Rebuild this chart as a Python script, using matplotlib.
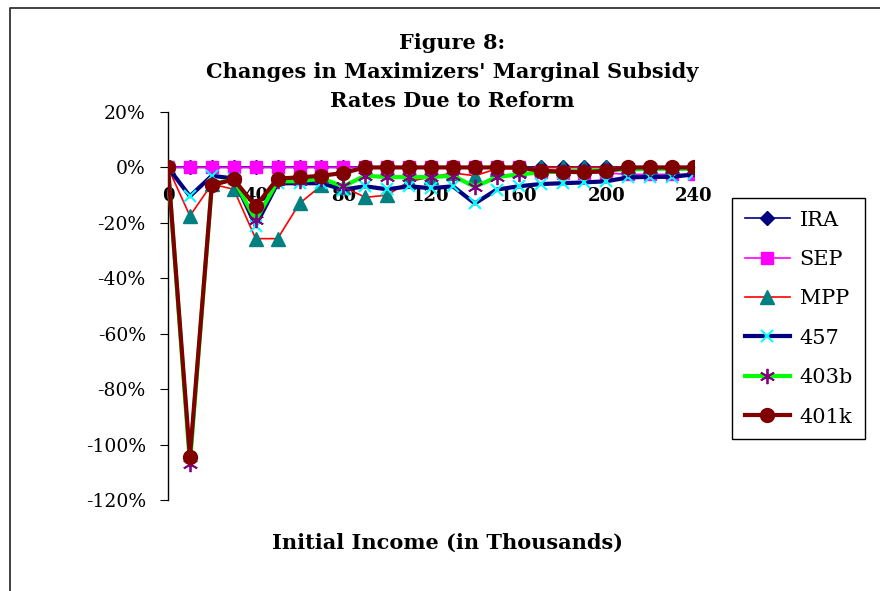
import matplotlib
matplotlib.use("Agg")
import matplotlib.pyplot as plt
from matplotlib.lines import Line2D
import numpy as np

income = list(range(0, 250, 10))

ira = [0, 0, 0, 0, 0, 0, 0, 0, 0, 0, 0, 0, 0, 0, 0, 0, 0, 0, 0, 0, 0, 0, 0, 0, 0]
sep = [0, 0, 0, 0, 0, 0, 0, 0, 0, 0, 0, 0, 0, 0, 0, 0, 0, -1.5, -2, -2, -2, -2.5, -2.5, -2.5, -2.5]
mpp = [0, -17.5, -6, -7.9, -25.7, -25.7, -13, -6.5, -7, -10.8, -10, -5, -3.5, -2, -3, -0.5, -0.5, 0, 0, 0, 0, 0, 0, 0, 0]
f457 = [0, -10.4, -3, -4, -21, -5.7, -5.7, -5.7, -8, -6.8, -7.9, -6.8, -7.5, -6.8, -13, -8, -6.8, -6, -5.7, -5.4, -5, -3.6, -3.4, -3.4, -2.5]
f403b = [0, -107, -6, -4.3, -19, -5, -5, -4, -6.8, -3, -3.5, -3.5, -3.5, -3, -7, -3.5, -2.5, -1.8, -1.5, -1.2, -1, -0.7, -0.5, -0.5, -0.5]
f401k = [0, -104.5, -6.4, -4.3, -14, -4, -3.6, -3, -2, 0, 0, 0, 0, 0, 0, 0, 0, -1.2, -1.5, -1.8, -1.2, 0, 0, 0, 0]

ytick_vals = [20, 0, -20, -40, -60, -80, -100, -120]
ytick_labels = ["20%", "0%", "-20%", "-40%", "-60%", "-80%", "-100%", "-120%"]
xtick_vals = [0, 40, 80, 120, 160, 200, 240]
xtick_labels = ["0", "40", "80", "120", "160", "200", "240"]

serif = ["DejaVu Serif"]
plt.rcParams["font.family"] = serif

fig = plt.figure(figsize=(8.8, 5.91), dpi=100)
ax = fig.add_axes([168/880, 1-500/591, (694-168)/880, (500-112)/591])

ax.plot(income, ira, color="#000080", lw=1.2, marker="D", ms=7, mfc="#000080", mec="#000080", label="IRA", zorder=3)
ax.plot(income, sep, color="#FF00FF", lw=1.2, marker="s", ms=9, mfc="#FF00FF", mec="#FF00FF", label="SEP", zorder=4)
ax.plot(income, mpp, color="#FF0000", lw=1.2, marker="^", ms=10, mfc="#008080", mec="#008080", label="MPP", zorder=5)
ax.plot(income, f457, color="#000080", lw=3, marker="x", ms=9, mew=1.5, mfc="#00FFFF", mec="#00FFFF", label="457", zorder=6)
ax.plot(income, f403b, color="#00FF00", lw=3, marker=(6, 2, 0), ms=11, mew=1.3, mfc="#800080", mec="#800080", label="403b", zorder=7)
ax.plot(income, f401k, color="#800000", lw=3, marker="o", ms=10, mfc="#800000", mec="#800000", label="401k", zorder=8)

ax.set_xlim(0, 240)
ax.set_ylim(-120, 20)
ax.spines["top"].set_visible(False)
ax.spines["right"].set_visible(False)
ax.spines["bottom"].set_position(("data", 0))
ax.spines["left"].set_linewidth(1)
ax.spines["bottom"].set_linewidth(1)
ax.set_yticks(ytick_vals)
ax.set_yticklabels(ytick_labels, fontsize=13.5)
ax.tick_params(axis="y", direction="out", length=6, pad=10)
ax.set_xticks(xtick_vals)
ax.set_xticklabels(xtick_labels, fontsize=13, fontweight="bold")
ax.tick_params(axis="x", direction="out", length=0, pad=14)
ax.patch.set_visible(False)

fig.text(452/880, 1-72/591, "Figure 8:\nChanges in Maximizers' Marginal Subsidy\nRates Due to Reform",
         ha="center", va="center", fontsize=15, fontweight="bold", linespacing=1.55)
fig.text(448/880, 1-543/591, "Initial Income (in Thousands)", ha="center", va="center",
         fontsize=15, fontweight="bold")

leg = fig.legend(loc="upper left", bbox_to_anchor=(732/880, 1-198/591), fontsize=15,
                 frameon=True, fancybox=False, edgecolor="black", framealpha=1,
                 handlelength=2.2, labelspacing=0.98, borderpad=0.6, handletextpad=0.45,
                 borderaxespad=0)
leg.get_frame().set_linewidth(1)

fig.add_artist(Line2D([10/880, 10/880, 1.0], [0, 1-8/591, 1-8/591], transform=fig.transFigure,
                      color="#333333", lw=1.3))

fig.savefig("out.png", dpi=100)
